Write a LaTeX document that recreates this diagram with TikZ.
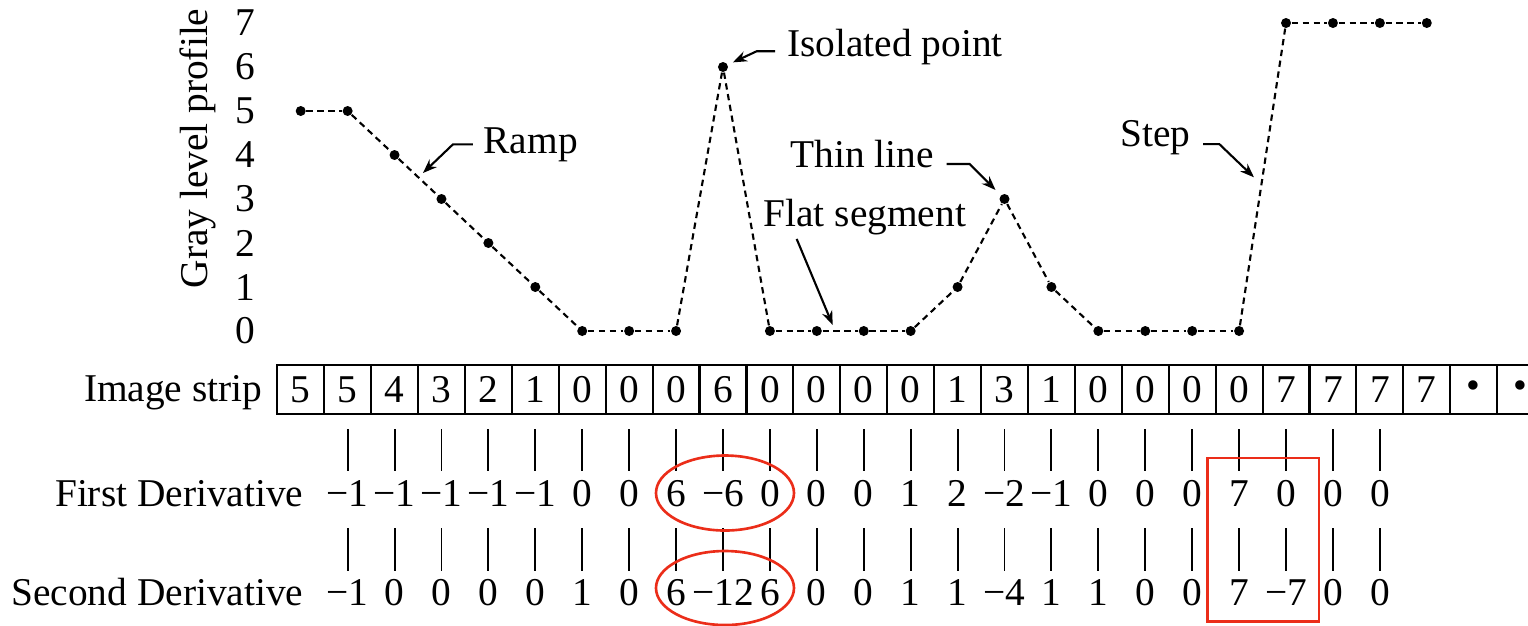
\documentclass[tikz,border=0pt]{standalone}
\usepackage{fontspec}
\setmainfont{Liberation Serif}
\usetikzlibrary{
    arrows.meta,
    calc
}
\definecolor{markred}{RGB}{235,45,25}
\tikzset {
    profile line/.style = {dash pattern = on 1.8pt off 1.3pt, line width = 0.6pt},
    level/.style = {circle, fill, inner sep = 0pt, minimum size = 0.1cm},
    cell/.style = {draw, line width = 0.6pt, inner sep = 0pt, minimum width = 0.4692cm, minimum height = 0.49cm},
    tick/.style = {line width = 0.55pt},
    note/.style = {inner sep = 0pt},
    pointer/.style = {-{Stealth[length = 4pt, width = 3pt]}, line width = 0.6pt},
    highlight/.style = {draw = markred, line width = 0.75pt}
}

\begin{document}
\begin{tikzpicture}[x = 0.4692cm, y = 0.44cm, font = \fontsize{11.2pt}{13pt}\selectfont]
    \useasboundingbox (-5.409, -6.682) rectangle (27.157, 7.523);
    % gray level axis
    \node (axis) [rotate = 90] at (-1.202, 4.148) {Gray level profile};
    \foreach \y in {0,...,7}
        \node (g\y) [note] at (-0.19, \y) {\y};
    % profile
    \foreach \v [count = \i] in {5, 5, 4, 3, 2, 1, 0, 0, 0, 6, 0, 0, 0, 0, 1, 3, 1, 0, 0, 0, 0, 7, 7, 7, 7}
        \node (p\i) [level] at (\i, \v) {};
    \foreach \i [remember = \i as \j (initially 1)] in {2,...,25}
        \draw [profile line] (p\j) -- (p\i);
    % image strip
    \node (strip) [note, anchor = base east] at (0.196, -1.607) {Image strip};
    \foreach \v [count = \i] in {5, 5, 4, 3, 2, 1, 0, 0, 0, 6, 0, 0, 0, 0, 1, 3, 1, 0, 0, 0, 0, 7, 7, 7, 7, \textbullet, \textbullet}
        \node (c\i) [cell] at (\i, -1.33) {\v};
    % derivatives
    \node (first) [note, anchor = base east] at (1.07, -3.977) {First Derivative};
    \node (second) [note, anchor = base east] at (1.07, -6.227) {Second Derivative};
    \foreach \i in {2,...,24} {
        \draw [tick] (\i, -2.227) -- (\i, -3.182);
        \draw [tick] (\i, -4.484) -- (\i, -5.448);
    }
    \foreach \v [count = \k, evaluate = \k as \i using int(\k + 1)] in {−1, −1, −1, −1, −1, 0, 0, 6, −6, 0, 0, 0, 1, 2, −2, −1, 0, 0, 0, 7, 0, 0, 0}
        \node (d\i) [note, anchor = base] at (\i, -3.977) {\v};
    \foreach \v [count = \k, evaluate = \k as \i using int(\k + 1)] in {−1, 0, 0, 0, 0, 1, 0, 6, −12, 6, 0, 0, 1, 1, −4, 1, 1, 0, 0, 7, −7, 0, 0}
        \node (dd\i) [note, anchor = base] at (\i, -6.227) {\v};
    % labels
    \node (ramp) [note, anchor = base west] at (4.885, 4.045) {Ramp};
    \coordinate (ramp tip) at (3.606, 3.591);
    \draw [pointer] ([xshift = -0.1cm]ramp.west) -- ++(-0.2cm, 0) -- (ramp tip);
    \node (iso) [note, anchor = base west] at (11.358, 6.234) {Isolated point};
    \draw [pointer, shorten >= 1.5pt] ([xshift = -0.117cm, yshift = -0.04cm]iso.west) -- ++(-0.183cm, 0) -- (p10);
    \node (thin) [note, anchor = base west] at (11.428, 3.705) {Thin line};
    \draw [pointer, shorten >= 2pt] ([xshift = 0.12cm, yshift = -0.095cm]thin.east) -- ++(0.23cm, 0) -- (p16);
    \node (flat) [note, anchor = base west] at (10.852, 2.370) {Flat segment};
    \coordinate (flat tip) at (12.338, 0.136);
    \draw [pointer] ([xshift = 0.337cm, yshift = -0.03cm]flat.south west) -- (flat tip);
    \node (stepnote) [note, anchor = base west] at (18.461, 4.189) {Step};
    \coordinate (step tip) at (21.317, 3.493);
    \draw [pointer] ([xshift = 0.117cm, yshift = -0.063cm]stepnote.east) -- ++(0.163cm, 0) -- (step tip);
    % red marks
    \draw [highlight] (10.043, -3.682) ellipse [x radius = 0.69cm, y radius = 0.375cm];
    \draw [highlight] (10.043, -5.841) ellipse [x radius = 0.69cm, y radius = 0.37cm];
    \draw [highlight] (20.326, -2.886) rectangle (22.702, -6.607);
\end{tikzpicture}
\end{document}
